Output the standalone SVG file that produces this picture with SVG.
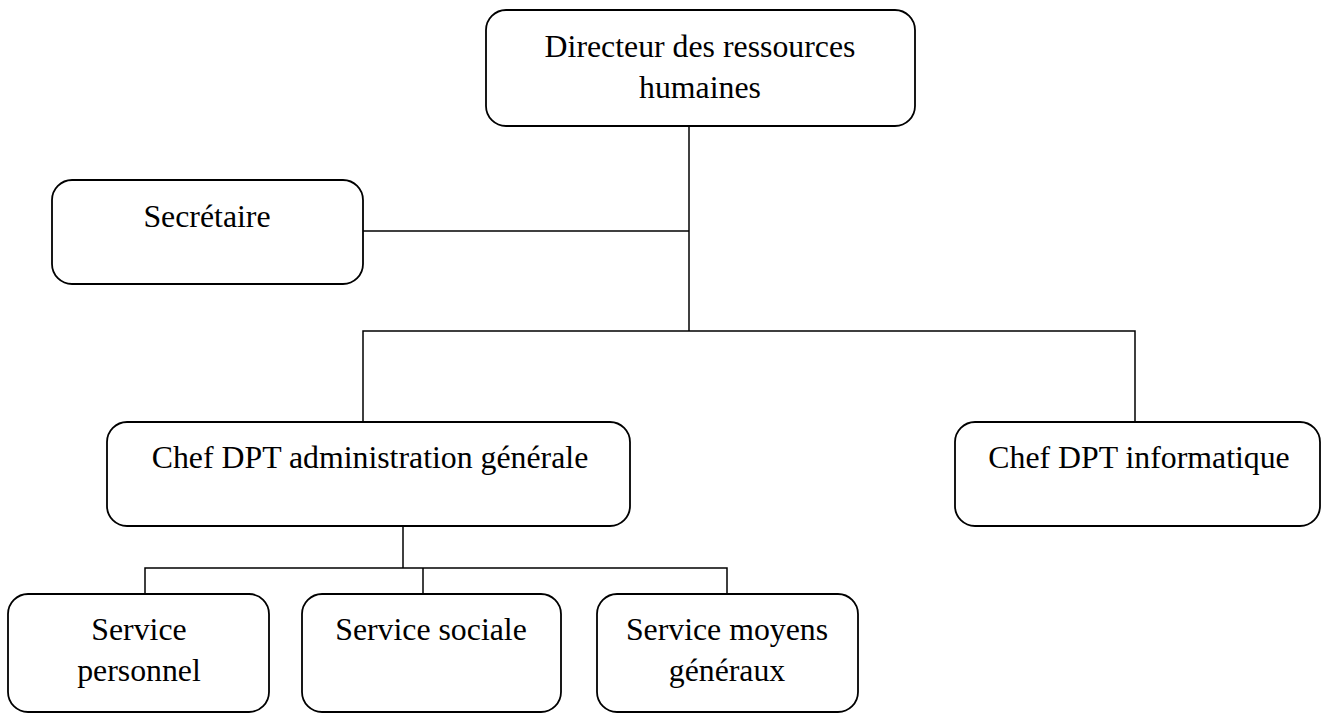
<svg xmlns="http://www.w3.org/2000/svg" width="1325" height="713" viewBox="0 0 1325 713">
  <style>
    .box { fill: #ffffff; stroke: #000000; stroke-width: 1.8; }
    .link { fill: none; stroke: #000000; stroke-width: 1.5; }
    .label { font-family: "Liberation Serif", "Times New Roman", serif; font-size: 31.8px; fill: #000000; text-anchor: middle; }
  </style>
  <rect width="1325" height="713" fill="#ffffff"/>

  <!-- connectors -->
  <g id="connectors">
    <path class="link" d="M689,126 V331"/>
    <path class="link" d="M363,231 H689"/>
    <path class="link" d="M363,422 V331 H1135 V422"/>
    <path class="link" d="M403,526 V568"/>
    <path class="link" d="M145,594 V568 H727 V594"/>
    <path class="link" d="M423,568 V594"/>
  </g>

  <g id="directeur">
    <rect class="box" x="486" y="10" width="429" height="116" rx="20" ry="20"/>
    <text class="label" x="700" y="57">Directeur des ressources</text>
    <text class="label" x="700" y="98">humaines</text>
  </g>

  <g id="secretaire">
    <rect class="box" x="52" y="180" width="311" height="104" rx="20" ry="20"/>
    <text class="label" x="207" y="227">Secrétaire</text>
  </g>

  <g id="chef-admin">
    <rect class="box" x="107" y="422" width="523" height="104" rx="20" ry="20"/>
    <text class="label" x="370" y="468">Chef DPT administration générale</text>
  </g>

  <g id="chef-info">
    <rect class="box" x="955" y="422" width="365" height="104" rx="20" ry="20"/>
    <text class="label" x="1139" y="468">Chef DPT informatique</text>
  </g>

  <g id="service-personnel">
    <rect class="box" x="8" y="594" width="261" height="118" rx="20" ry="20"/>
    <text class="label" x="139" y="640">Service</text>
    <text class="label" x="139" y="681">personnel</text>
  </g>

  <g id="service-sociale">
    <rect class="box" x="302" y="594" width="259" height="118" rx="20" ry="20"/>
    <text class="label" x="431" y="640">Service sociale</text>
  </g>

  <g id="service-moyens">
    <rect class="box" x="597" y="594" width="261" height="118" rx="20" ry="20"/>
    <text class="label" x="727" y="640">Service moyens</text>
    <text class="label" x="727" y="681">généraux</text>
  </g>
</svg>
